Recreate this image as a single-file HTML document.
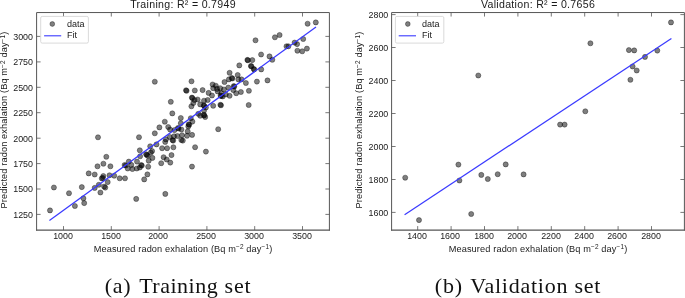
<!DOCTYPE html>
<html><head><meta charset="utf-8"><title>Radon exhalation fit</title>
<style>
html,body{margin:0;padding:0;background:#fff;}
#fig{position:relative;width:685px;height:298px;overflow:hidden;background:#fff;font-family:"Liberation Sans",sans-serif;color:#1a1a1a;}
#fig div{position:absolute;white-space:nowrap;line-height:1;}
.xc{transform:translateX(-50%);}
#fig div:not(.yl){will-change:transform;}
.tk{font-size:8.9px;}
.yr{text-align:right;}
.ti{font-size:10.6px;letter-spacing:0.3px;}
.lb{font-size:9.2px;letter-spacing:0.13px;}
.lb sup{font-size:0.7em;line-height:0;vertical-align:0.45em;}
.yl{transform:translate(-50%,-50%) rotate(-90deg);}
.lg{font-size:9px;}
.cap{font-family:"Liberation Serif",serif;font-size:22px;color:#111;letter-spacing:0.75px;}
</style></head><body>
<div id="fig">
<svg width="685" height="298" viewBox="0 0 685 298" style="position:absolute;left:0;top:0">
<g fill="#000" fill-opacity="0.5" stroke="#000" stroke-opacity="0.5" stroke-width="0.7">
<circle cx="50.0" cy="210.4" r="2.55"/>
<circle cx="53.9" cy="187.5" r="2.55"/>
<circle cx="69.0" cy="193.2" r="2.55"/>
<circle cx="74.9" cy="206.0" r="2.55"/>
<circle cx="81.8" cy="187.1" r="2.55"/>
<circle cx="83.4" cy="198.3" r="2.55"/>
<circle cx="84.2" cy="203.1" r="2.55"/>
<circle cx="94.7" cy="187.9" r="2.55"/>
<circle cx="100.4" cy="192.5" r="2.55"/>
<circle cx="104.1" cy="186.6" r="2.55"/>
<circle cx="105.3" cy="187.6" r="2.55"/>
<circle cx="106.3" cy="156.8" r="2.55"/>
<circle cx="103.4" cy="163.7" r="2.55"/>
<circle cx="97.5" cy="166.3" r="2.55"/>
<circle cx="110.4" cy="166.3" r="2.55"/>
<circle cx="88.7" cy="173.4" r="2.55"/>
<circle cx="94.7" cy="174.5" r="2.55"/>
<circle cx="103.3" cy="176.0" r="2.55"/>
<circle cx="101.8" cy="178.4" r="2.55"/>
<circle cx="102.8" cy="177.9" r="2.55"/>
<circle cx="109.5" cy="175.3" r="2.55"/>
<circle cx="114.2" cy="175.7" r="2.55"/>
<circle cx="119.7" cy="178.3" r="2.55"/>
<circle cx="125.0" cy="178.3" r="2.55"/>
<circle cx="107.7" cy="182.1" r="2.55"/>
<circle cx="98.8" cy="184.8" r="2.55"/>
<circle cx="124.6" cy="165.0" r="2.55"/>
<circle cx="125.8" cy="165.5" r="2.55"/>
<circle cx="136.2" cy="198.9" r="2.55"/>
<circle cx="165.3" cy="193.9" r="2.55"/>
<circle cx="144.2" cy="179.4" r="2.55"/>
<circle cx="147.4" cy="174.4" r="2.55"/>
<circle cx="148.2" cy="166.7" r="2.55"/>
<circle cx="127.7" cy="168.5" r="2.55"/>
<circle cx="132.4" cy="169.0" r="2.55"/>
<circle cx="136.8" cy="168.5" r="2.55"/>
<circle cx="139.8" cy="167.5" r="2.55"/>
<circle cx="141.2" cy="165.0" r="2.55"/>
<circle cx="141.8" cy="165.6" r="2.55"/>
<circle cx="161.2" cy="163.2" r="2.55"/>
<circle cx="170.3" cy="162.6" r="2.55"/>
<circle cx="139.0" cy="137.2" r="2.55"/>
<circle cx="154.8" cy="133.3" r="2.55"/>
<circle cx="139.8" cy="150.3" r="2.55"/>
<circle cx="150.2" cy="146.3" r="2.55"/>
<circle cx="156.5" cy="144.4" r="2.55"/>
<circle cx="152.1" cy="151.1" r="2.55"/>
<circle cx="150.8" cy="152.6" r="2.55"/>
<circle cx="146.1" cy="154.3" r="2.55"/>
<circle cx="146.8" cy="154.8" r="2.55"/>
<circle cx="147.7" cy="155.7" r="2.55"/>
<circle cx="140.1" cy="156.3" r="2.55"/>
<circle cx="152.4" cy="157.9" r="2.55"/>
<circle cx="148.7" cy="160.7" r="2.55"/>
<circle cx="137.0" cy="161.6" r="2.55"/>
<circle cx="128.8" cy="161.6" r="2.55"/>
<circle cx="131.3" cy="164.9" r="2.55"/>
<circle cx="163.6" cy="157.2" r="2.55"/>
<circle cx="166.7" cy="159.5" r="2.55"/>
<circle cx="171.5" cy="155.1" r="2.55"/>
<circle cx="162.1" cy="148.2" r="2.55"/>
<circle cx="167.1" cy="148.2" r="2.55"/>
<circle cx="173.4" cy="147.3" r="2.55"/>
<circle cx="165.2" cy="141.9" r="2.55"/>
<circle cx="165.9" cy="139.4" r="2.55"/>
<circle cx="169.8" cy="137.0" r="2.55"/>
<circle cx="172.5" cy="140.1" r="2.55"/>
<circle cx="173.2" cy="140.6" r="2.55"/>
<circle cx="181.3" cy="140.0" r="2.55"/>
<circle cx="182.8" cy="140.6" r="2.55"/>
<circle cx="187.0" cy="135.8" r="2.55"/>
<circle cx="192.1" cy="134.9" r="2.55"/>
<circle cx="177.4" cy="136.0" r="2.55"/>
<circle cx="174.0" cy="136.3" r="2.55"/>
<circle cx="182.0" cy="135.2" r="2.55"/>
<circle cx="195.1" cy="147.2" r="2.55"/>
<circle cx="192.0" cy="166.6" r="2.55"/>
<circle cx="170.8" cy="101.8" r="2.55"/>
<circle cx="172.3" cy="113.4" r="2.55"/>
<circle cx="180.8" cy="118.0" r="2.55"/>
<circle cx="164.8" cy="121.7" r="2.55"/>
<circle cx="159.4" cy="127.4" r="2.55"/>
<circle cx="168.2" cy="127.0" r="2.55"/>
<circle cx="170.1" cy="129.5" r="2.55"/>
<circle cx="174.5" cy="130.1" r="2.55"/>
<circle cx="177.9" cy="128.0" r="2.55"/>
<circle cx="178.6" cy="128.5" r="2.55"/>
<circle cx="181.4" cy="129.5" r="2.55"/>
<circle cx="180.8" cy="123.2" r="2.55"/>
<circle cx="188.7" cy="124.3" r="2.55"/>
<circle cx="189.2" cy="124.8" r="2.55"/>
<circle cx="188.3" cy="126.4" r="2.55"/>
<circle cx="192.4" cy="121.6" r="2.55"/>
<circle cx="190.8" cy="118.2" r="2.55"/>
<circle cx="187.7" cy="131.4" r="2.55"/>
<circle cx="198.3" cy="113.8" r="2.55"/>
<circle cx="200.2" cy="115.7" r="2.55"/>
<circle cx="203.8" cy="114.9" r="2.55"/>
<circle cx="204.3" cy="115.4" r="2.55"/>
<circle cx="205.2" cy="117.0" r="2.55"/>
<circle cx="204.0" cy="110.7" r="2.55"/>
<circle cx="191.4" cy="106.3" r="2.55"/>
<circle cx="193.3" cy="103.1" r="2.55"/>
<circle cx="194.5" cy="100.0" r="2.55"/>
<circle cx="200.2" cy="104.4" r="2.55"/>
<circle cx="203.8" cy="105.4" r="2.55"/>
<circle cx="204.3" cy="105.9" r="2.55"/>
<circle cx="205.9" cy="107.5" r="2.55"/>
<circle cx="204.0" cy="100.7" r="2.55"/>
<circle cx="207.7" cy="100.0" r="2.55"/>
<circle cx="213.2" cy="105.8" r="2.55"/>
<circle cx="220.4" cy="104.8" r="2.55"/>
<circle cx="221.0" cy="105.3" r="2.55"/>
<circle cx="218.2" cy="129.2" r="2.55"/>
<circle cx="205.9" cy="151.6" r="2.55"/>
<circle cx="248.7" cy="105.0" r="2.55"/>
<circle cx="191.5" cy="81.3" r="2.55"/>
<circle cx="186.0" cy="90.3" r="2.55"/>
<circle cx="186.6" cy="90.8" r="2.55"/>
<circle cx="194.8" cy="90.5" r="2.55"/>
<circle cx="202.6" cy="90.1" r="2.55"/>
<circle cx="191.9" cy="97.6" r="2.55"/>
<circle cx="192.3" cy="98.0" r="2.55"/>
<circle cx="197.6" cy="99.5" r="2.55"/>
<circle cx="208.6" cy="92.9" r="2.55"/>
<circle cx="212.0" cy="95.5" r="2.55"/>
<circle cx="212.6" cy="84.5" r="2.55"/>
<circle cx="215.8" cy="85.7" r="2.55"/>
<circle cx="213.2" cy="88.2" r="2.55"/>
<circle cx="217.0" cy="88.9" r="2.55"/>
<circle cx="220.2" cy="88.2" r="2.55"/>
<circle cx="217.6" cy="91.4" r="2.55"/>
<circle cx="221.4" cy="93.2" r="2.55"/>
<circle cx="223.9" cy="89.5" r="2.55"/>
<circle cx="220.6" cy="95.6" r="2.55"/>
<circle cx="221.1" cy="96.0" r="2.55"/>
<circle cx="222.7" cy="96.4" r="2.55"/>
<circle cx="225.8" cy="94.5" r="2.55"/>
<circle cx="229.6" cy="95.8" r="2.55"/>
<circle cx="228.3" cy="87.6" r="2.55"/>
<circle cx="224.5" cy="82.0" r="2.55"/>
<circle cx="228.9" cy="79.4" r="2.55"/>
<circle cx="231.8" cy="78.0" r="2.55"/>
<circle cx="232.4" cy="78.5" r="2.55"/>
<circle cx="229.6" cy="72.8" r="2.55"/>
<circle cx="237.7" cy="75.0" r="2.55"/>
<circle cx="238.4" cy="79.4" r="2.55"/>
<circle cx="241.5" cy="79.4" r="2.55"/>
<circle cx="233.8" cy="86.1" r="2.55"/>
<circle cx="234.3" cy="86.6" r="2.55"/>
<circle cx="233.3" cy="90.1" r="2.55"/>
<circle cx="236.2" cy="93.2" r="2.55"/>
<circle cx="240.9" cy="92.0" r="2.55"/>
<circle cx="245.9" cy="83.0" r="2.55"/>
<circle cx="248.9" cy="90.8" r="2.55"/>
<circle cx="256.9" cy="81.6" r="2.55"/>
<circle cx="267.5" cy="80.4" r="2.55"/>
<circle cx="239.3" cy="65.4" r="2.55"/>
<circle cx="250.9" cy="66.0" r="2.55"/>
<circle cx="251.4" cy="66.3" r="2.55"/>
<circle cx="253.8" cy="69.1" r="2.55"/>
<circle cx="254.2" cy="69.4" r="2.55"/>
<circle cx="261.2" cy="69.4" r="2.55"/>
<circle cx="255.5" cy="40.3" r="2.55"/>
<circle cx="274.9" cy="37.3" r="2.55"/>
<circle cx="279.6" cy="35.0" r="2.55"/>
<circle cx="261.1" cy="54.5" r="2.55"/>
<circle cx="269.5" cy="56.4" r="2.55"/>
<circle cx="272.3" cy="59.8" r="2.55"/>
<circle cx="247.4" cy="59.9" r="2.55"/>
<circle cx="247.9" cy="60.3" r="2.55"/>
<circle cx="252.3" cy="60.1" r="2.55"/>
<circle cx="286.5" cy="46.3" r="2.55"/>
<circle cx="288.4" cy="46.3" r="2.55"/>
<circle cx="294.6" cy="42.6" r="2.55"/>
<circle cx="297.1" cy="44.1" r="2.55"/>
<circle cx="303.2" cy="39.0" r="2.55"/>
<circle cx="297.4" cy="50.7" r="2.55"/>
<circle cx="302.2" cy="51.3" r="2.55"/>
<circle cx="306.9" cy="48.6" r="2.55"/>
<circle cx="307.6" cy="23.7" r="2.55"/>
<circle cx="315.8" cy="22.4" r="2.55"/>
<circle cx="98.0" cy="137.3" r="2.55"/>
<circle cx="154.8" cy="81.7" r="2.55"/>
<circle cx="405.2" cy="177.7" r="2.55"/>
<circle cx="419.0" cy="220.1" r="2.55"/>
<circle cx="458.4" cy="164.6" r="2.55"/>
<circle cx="459.4" cy="180.5" r="2.55"/>
<circle cx="471.2" cy="214.0" r="2.55"/>
<circle cx="481.3" cy="174.9" r="2.55"/>
<circle cx="487.8" cy="179.0" r="2.55"/>
<circle cx="497.7" cy="174.2" r="2.55"/>
<circle cx="505.7" cy="164.4" r="2.55"/>
<circle cx="478.3" cy="75.5" r="2.55"/>
<circle cx="523.6" cy="174.4" r="2.55"/>
<circle cx="560.1" cy="124.6" r="2.55"/>
<circle cx="564.6" cy="124.6" r="2.55"/>
<circle cx="585.3" cy="111.3" r="2.55"/>
<circle cx="630.4" cy="79.8" r="2.55"/>
<circle cx="590.4" cy="43.3" r="2.55"/>
<circle cx="628.9" cy="50.1" r="2.55"/>
<circle cx="634.2" cy="50.4" r="2.55"/>
<circle cx="657.3" cy="50.6" r="2.55"/>
<circle cx="645.0" cy="56.9" r="2.55"/>
<circle cx="632.6" cy="66.5" r="2.55"/>
<circle cx="636.7" cy="70.5" r="2.55"/>
<circle cx="671.0" cy="22.4" r="2.55"/>
</g>
<g stroke="#3a3aff" stroke-width="1.25" stroke-linecap="butt">
<line x1="49.4" y1="220.4" x2="316" y2="27.1"/>
<line x1="404.6" y1="214.8" x2="671.4" y2="38.4"/>
</g>
<g stroke="#555555" stroke-width="1" fill="none">
<path d="M36.6 230.6V12.55H329.4V230.6"/>
<path d="M391.6 230.6V12.55H684.4V230.6"/>
<path d="M36.1 230.2H329.9M391.1 230.2H684.9" stroke-width="1.2"/>
</g>
<g stroke="#555555" stroke-width="0.8" fill="none">
<line x1="63.5" y1="230.1" x2="63.5" y2="226.1"/>
<line x1="63.5" y1="12.55" x2="63.5" y2="16.55"/>
<line x1="111.3" y1="230.1" x2="111.3" y2="226.1"/>
<line x1="111.3" y1="12.55" x2="111.3" y2="16.55"/>
<line x1="159.1" y1="230.1" x2="159.1" y2="226.1"/>
<line x1="159.1" y1="12.55" x2="159.1" y2="16.55"/>
<line x1="206.9" y1="230.1" x2="206.9" y2="226.1"/>
<line x1="206.9" y1="12.55" x2="206.9" y2="16.55"/>
<line x1="254.7" y1="230.1" x2="254.7" y2="226.1"/>
<line x1="254.7" y1="12.55" x2="254.7" y2="16.55"/>
<line x1="302.5" y1="230.1" x2="302.5" y2="226.1"/>
<line x1="302.5" y1="12.55" x2="302.5" y2="16.55"/>
<line x1="36.6" y1="36.4" x2="40.6" y2="36.4"/>
<line x1="329.4" y1="36.4" x2="325.4" y2="36.4"/>
<line x1="36.6" y1="61.9" x2="40.6" y2="61.9"/>
<line x1="329.4" y1="61.9" x2="325.4" y2="61.9"/>
<line x1="36.6" y1="87.3" x2="40.6" y2="87.3"/>
<line x1="329.4" y1="87.3" x2="325.4" y2="87.3"/>
<line x1="36.6" y1="112.7" x2="40.6" y2="112.7"/>
<line x1="329.4" y1="112.7" x2="325.4" y2="112.7"/>
<line x1="36.6" y1="138.2" x2="40.6" y2="138.2"/>
<line x1="329.4" y1="138.2" x2="325.4" y2="138.2"/>
<line x1="36.6" y1="163.6" x2="40.6" y2="163.6"/>
<line x1="329.4" y1="163.6" x2="325.4" y2="163.6"/>
<line x1="36.6" y1="189.0" x2="40.6" y2="189.0"/>
<line x1="329.4" y1="189.0" x2="325.4" y2="189.0"/>
<line x1="36.6" y1="214.4" x2="40.6" y2="214.4"/>
<line x1="329.4" y1="214.4" x2="325.4" y2="214.4"/>
<line x1="417.7" y1="230.1" x2="417.7" y2="226.1"/>
<line x1="417.7" y1="12.55" x2="417.7" y2="16.55"/>
<line x1="451.1" y1="230.1" x2="451.1" y2="226.1"/>
<line x1="451.1" y1="12.55" x2="451.1" y2="16.55"/>
<line x1="484.5" y1="230.1" x2="484.5" y2="226.1"/>
<line x1="484.5" y1="12.55" x2="484.5" y2="16.55"/>
<line x1="517.9" y1="230.1" x2="517.9" y2="226.1"/>
<line x1="517.9" y1="12.55" x2="517.9" y2="16.55"/>
<line x1="551.3" y1="230.1" x2="551.3" y2="226.1"/>
<line x1="551.3" y1="12.55" x2="551.3" y2="16.55"/>
<line x1="584.7" y1="230.1" x2="584.7" y2="226.1"/>
<line x1="584.7" y1="12.55" x2="584.7" y2="16.55"/>
<line x1="618.1" y1="230.1" x2="618.1" y2="226.1"/>
<line x1="618.1" y1="12.55" x2="618.1" y2="16.55"/>
<line x1="651.5" y1="230.1" x2="651.5" y2="226.1"/>
<line x1="651.5" y1="12.55" x2="651.5" y2="16.55"/>
<line x1="391.6" y1="14.6" x2="395.6" y2="14.6"/>
<line x1="684.4" y1="14.6" x2="680.4" y2="14.6"/>
<line x1="391.6" y1="47.5" x2="395.6" y2="47.5"/>
<line x1="684.4" y1="47.5" x2="680.4" y2="47.5"/>
<line x1="391.6" y1="80.5" x2="395.6" y2="80.5"/>
<line x1="684.4" y1="80.5" x2="680.4" y2="80.5"/>
<line x1="391.6" y1="113.5" x2="395.6" y2="113.5"/>
<line x1="684.4" y1="113.5" x2="680.4" y2="113.5"/>
<line x1="391.6" y1="146.5" x2="395.6" y2="146.5"/>
<line x1="684.4" y1="146.5" x2="680.4" y2="146.5"/>
<line x1="391.6" y1="179.5" x2="395.6" y2="179.5"/>
<line x1="684.4" y1="179.5" x2="680.4" y2="179.5"/>
<line x1="391.6" y1="212.4" x2="395.6" y2="212.4"/>
<line x1="684.4" y1="212.4" x2="680.4" y2="212.4"/>
</g>
<g>
<rect x="40.7" y="16.4" width="47.7" height="26.7" rx="1.5" fill="#fff" fill-opacity="0.8" stroke="#d0d0d0" stroke-width="0.8"/>
<rect x="395.4" y="16.4" width="48.4" height="26.7" rx="1.5" fill="#fff" fill-opacity="0.8" stroke="#d0d0d0" stroke-width="0.8"/>
<g fill="#000" fill-opacity="0.5" stroke="#000" stroke-opacity="0.5" stroke-width="0.7">
<circle cx="52.3" cy="24" r="2.4"/><circle cx="407.8" cy="24" r="2.4"/></g>
<g stroke="#3a3aff" stroke-width="1.1">
<line x1="44.1" y1="35.8" x2="61.2" y2="35.8"/>
<line x1="398.7" y1="35.8" x2="416" y2="35.8"/></g>
</g>
</svg>
<div class="yw" style="left:0;top:0;width:20px;height:240px"><div class="lb yl" style="left:5.2px;top:120.4px">Predicted radon exhalation (Bq m<sup>−2</sup> day<sup>−1</sup>)</div></div>
<div class="yw" style="left:350px;top:0;width:20px;height:240px"><div class="lb yl" style="left:9.8px;top:120.4px">Predicted radon exhalation (Bq m<sup>−2</sup> day<sup>−1</sup>)</div></div>
<div class="tk xc" style="left:62.7px;top:232.0px">1000</div>
<div class="tk xc" style="left:110.5px;top:232.0px">1500</div>
<div class="tk xc" style="left:158.3px;top:232.0px">2000</div>
<div class="tk xc" style="left:206.1px;top:232.0px">2500</div>
<div class="tk xc" style="left:253.9px;top:232.0px">3000</div>
<div class="tk xc" style="left:301.7px;top:232.0px">3500</div>
<div class="tk xc" style="left:416.9px;top:232.0px">1400</div>
<div class="tk xc" style="left:450.3px;top:232.0px">1600</div>
<div class="tk xc" style="left:483.7px;top:232.0px">1800</div>
<div class="tk xc" style="left:517.1px;top:232.0px">2000</div>
<div class="tk xc" style="left:550.5px;top:232.0px">2200</div>
<div class="tk xc" style="left:583.9px;top:232.0px">2400</div>
<div class="tk xc" style="left:617.3px;top:232.0px">2600</div>
<div class="tk xc" style="left:650.8px;top:232.0px">2800</div>
<div class="tk yr" style="left:0;width:33px;top:33px">3000</div>
<div class="tk yr" style="left:0;width:33px;top:58px">2750</div>
<div class="tk yr" style="left:0;width:33px;top:84px">2500</div>
<div class="tk yr" style="left:0;width:33px;top:109px">2250</div>
<div class="tk yr" style="left:0;width:33px;top:135px">2000</div>
<div class="tk yr" style="left:0;width:33px;top:160px">1750</div>
<div class="tk yr" style="left:0;width:33px;top:185px">1500</div>
<div class="tk yr" style="left:0;width:33px;top:211px">1250</div>
<div class="tk yr" style="left:340px;width:48.3px;top:11px">2800</div>
<div class="tk yr" style="left:340px;width:48.3px;top:44px">2600</div>
<div class="tk yr" style="left:340px;width:48.3px;top:77px">2400</div>
<div class="tk yr" style="left:340px;width:48.3px;top:110px">2200</div>
<div class="tk yr" style="left:340px;width:48.3px;top:143px">2000</div>
<div class="tk yr" style="left:340px;width:48.3px;top:176px">1800</div>
<div class="tk yr" style="left:340px;width:48.3px;top:209px">1600</div>
<div class="ti xc" style="left:182.8px;top:-1.0px">Training: R² = 0.7949</div>
<div class="ti xc" style="left:538px;top:-1.0px">Validation: R² = 0.7656</div>
<div class="lb xc" style="left:183px;top:245px">Measured radon exhalation (Bq m<sup>−2</sup> day<sup>−1</sup>)</div>
<div class="lb xc" style="left:538.2px;top:245px">Measured radon exhalation (Bq m<sup>−2</sup> day<sup>−1</sup>)</div>
<div class="lg" style="left:67px;top:19.5px">data</div>
<div class="lg" style="left:67px;top:31.1px">Fit</div>
<div class="lg" style="left:422.3px;top:19.5px">data</div>
<div class="lg" style="left:422.3px;top:31.1px">Fit</div>
<div class="cap xc" style="left:178.0px;top:275px">(a) <span style="margin-left:1.5px;letter-spacing:0.5px">Training</span> <span style="margin-left:0.2px">set</span></div>
<div class="cap xc" style="left:518.3px;top:275px">(b) <span style="margin-left:1.3px">Validation</span> set</div>
</div>
</body></html>
